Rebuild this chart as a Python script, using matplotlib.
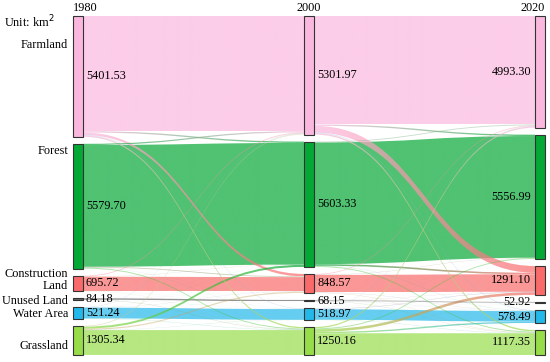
import numpy as np
import matplotlib.pyplot as plt
from matplotlib.path import Path
from matplotlib.patches import PathPatch, Rectangle
from matplotlib.colors import to_rgb

plt.rcParams['font.family'] = ['Liberation Serif', 'DejaVu Serif']

years = ['1980', '2000', '2020']
classes = ['Farmland', 'Forest', 'Construction\nLand', 'Unused Land', 'Water Area', 'Grassland']
area_1980 = [5401.53, 5579.70, 695.72, 84.18, 521.24, 1305.34]
area_2000 = [5301.97, 5603.33, 848.57, 68.15, 518.97, 1250.16]
area_2020 = [4993.30, 5556.99, 1291.10, 52.92, 578.49, 1117.35]
areas = [area_1980, area_2000, area_2020]

# transfer matrices (rows = from, cols = to), estimated from the band widths
flows_1980_2000 = [
    [5150.00, 60.00, 110.00, 2.00, 20.00, 59.53],
    [55.00, 5440.00, 35.00, 1.00, 4.70, 44.00],
    [40.00, 8.00, 640.00, 0.50, 2.00, 5.22],
    [2.00, 1.00, 2.00, 62.00, 3.00, 14.18],
    [15.00, 3.00, 8.00, 1.00, 480.00, 14.24],
    [39.97, 91.33, 53.57, 1.65, 9.27, 1109.55],
]
flows_2000_2020 = [
    [4850.00, 60.00, 300.00, 1.00, 25.00, 65.97],
    [40.00, 5440.00, 70.00, 1.00, 8.00, 44.33],
    [35.00, 10.00, 780.00, 1.00, 10.00, 12.57],
    [1.00, 1.00, 6.00, 45.00, 5.00, 10.15],
    [12.00, 2.00, 20.00, 2.00, 470.00, 12.97],
    [55.30, 43.99, 115.10, 2.92, 60.49, 972.36],
]
flows = [flows_1980_2000, flows_2000_2020]

colors = ['#fbb8df', '#04a835', '#f96a6a', '#666666', '#22b8ea', '#97dd4a']
label_y = [45, 151, 280, 301, 314, 346]

fig = plt.figure(figsize=(5.5, 3.62), dpi=100)
ax = fig.add_axes([0, 0, 1, 1])

top, bottom, gap = 16, 355, 7
node_x = [73, 304, 535]
node_w = 10
n = len(classes)
k = (bottom - top - gap * (n - 1)) / max(sum(a) for a in areas)

# node positions
node_top = []
for col in areas:
    y = top
    tops = []
    for v in col:
        tops.append(y)
        y += v * k + gap
    node_top.append(tops)

link_alpha = 0.7
grad = np.linspace(0, 1, 64)

for t, fl in enumerate(flows):
    sy = np.zeros((n, n))
    ty = np.zeros((n, n))
    for i in range(n):
        off = node_top[t][i]
        for j in range(n):
            sy[i, j] = off
            off += fl[i][j] * k
    for j in range(n):
        off = node_top[t + 1][j]
        for i in range(n):
            ty[i, j] = off
            off += fl[i][j] * k
    x1 = node_x[t] + node_w
    x2 = node_x[t + 1]
    xm = (x1 + x2) / 2
    order = [(i, i) for i in range(n)]
    order += sorted([(i, j) for i in range(n) for j in range(n) if i != j],
                    key=lambda p: -fl[p[0]][p[1]])
    for i, j in order:
        w = fl[i][j] * k
        if w <= 0:
            continue
        a, b = sy[i, j], ty[i, j]
        verts = [(x1, a), (xm, a), (xm, b), (x2, b),
                 (x2, b + w), (xm, b + w), (xm, a + w), (x1, a + w), (x1, a)]
        codes = [Path.MOVETO, Path.CURVE4, Path.CURVE4, Path.CURVE4,
                 Path.LINETO, Path.CURVE4, Path.CURVE4, Path.CURVE4, Path.CLOSEPOLY]
        c0, c1 = np.array(to_rgb(colors[i])), np.array(to_rgb(colors[j]))
        img = np.ones((1, len(grad), 4))
        img[0, :, :3] = (1 - grad)[:, None] * c0 + grad[:, None] * c1
        img[0, :, 3] = link_alpha
        if w < 1.2:
            # hairline links: plain fill, the clipped image would vanish
            patch = PathPatch(Path(verts, codes), facecolor=(c0 + c1) / 2,
                              edgecolor='none', alpha=link_alpha * 0.6)
            ax.add_patch(patch)
            continue
        patch = PathPatch(Path(verts, codes), facecolor='none', edgecolor='none')
        ax.add_patch(patch)
        im = ax.imshow(img, extent=(x1, x2, max(a, b) + w, min(a, b)),
                       aspect='auto', interpolation='bilinear')
        im.set_clip_path(patch)

# nodes and labels
fs = 8.8
for c, col in enumerate(areas):
    for i, v in enumerate(col):
        h = v * k
        ax.add_patch(Rectangle((node_x[c], node_top[c][i]), node_w, h,
                               facecolor=colors[i], edgecolor='#333333', lw=0.8, zorder=5))
        yc = node_top[c][i] + h / 2
        if c < 2:
            ax.text(node_x[c] + node_w + 3, yc, f'{v:.2f}', ha='left', va='center', fontsize=fs, zorder=6)
        else:
            ax.text(node_x[c] - 4, yc, f'{v:.2f}', ha='right', va='center', fontsize=fs, zorder=6)

for i, name in enumerate(classes):
    ax.text(68, label_y[i], name, ha='right', va='center', fontsize=fs, linespacing=1.1)

ax.text(4, 22, 'Unit: km$^2$', ha='left', va='center', fontsize=fs)
ax.text(node_x[0], 8, years[0], ha='left', va='center', fontsize=fs)
ax.text(node_x[1] + node_w / 2, 8, years[1], ha='center', va='center', fontsize=fs)
ax.text(node_x[2] + node_w, 8, years[2], ha='right', va='center', fontsize=fs)

ax.set_xlim(0, 550)
ax.set_ylim(362, 0)
ax.set_aspect('auto')
ax.axis('off')
fig.savefig('out.png', dpi=100)
